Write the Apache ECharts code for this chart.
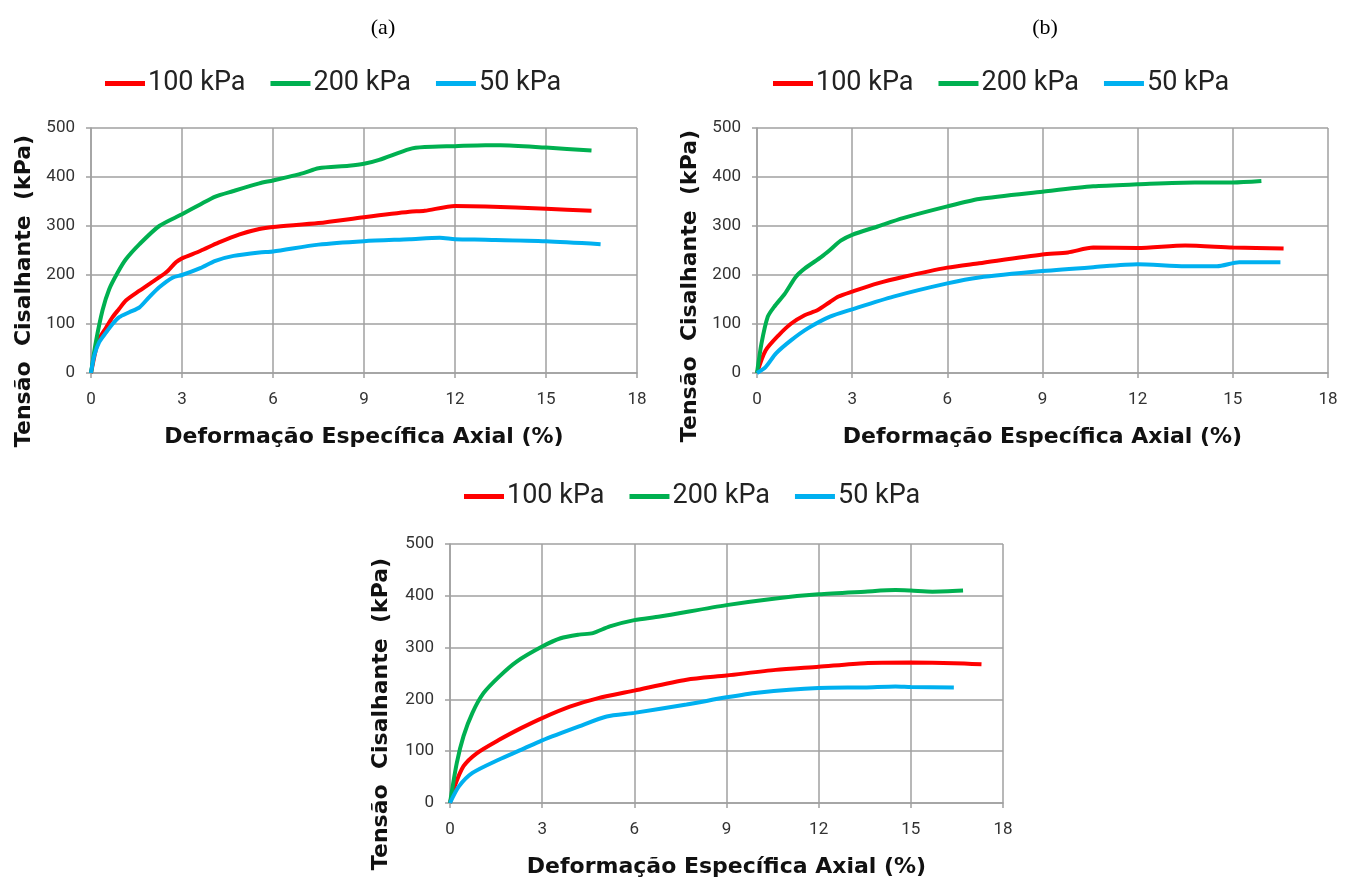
<!DOCTYPE html>
<html>
<head>
<meta charset="utf-8">
<script src="https://cdn.jsdelivr.net/npm/echarts@6/dist/echarts.min.js"></script>
<style>
html,body{margin:0;padding:0;background:#fff;}
#c{width:1354px;height:887px;}
</style>
</head>
<body>
<div id="c"></div>
<script>
// ---------- DATA ----------
var seriesNames = ['100 kPa', '200 kPa', '50 kPa'];
var xTicks = [0, 3, 6, 9, 12, 15, 18];
var yTicks = [0, 100, 200, 300, 400, 500];
var panelLabels = ['(a)', '(b)'];
var xTitle = 'Deformação Específica Axial (%)';
var yTitle = 'Tensão  Cisalhante  (kPa)';

// Panel (a)
var aX100 = [0, 0.15, 0.27, 0.5, 0.71, 0.93, 1.15, 1.6, 2.0, 2.47, 2.8, 3.0, 3.6, 4.2, 4.9, 5.55, 6, 7.5, 9, 10.5, 11, 12, 13, 15, 16.5];
var aY100 = [0, 45, 70, 93, 114, 131, 148, 168, 185, 205, 226, 234, 249, 266, 283, 294, 298, 306, 318, 329, 331, 341, 340, 335, 331];
var aX200 = [0, 0.16, 0.38, 0.6, 0.88, 1.15, 1.6, 2.25, 3.0, 3.6, 4.1, 4.67, 5.55, 6, 7, 7.5, 8.5, 9, 9.5, 10.5, 11, 12, 13, 13.5, 15, 16.5];
var aY200 = [0, 63, 128, 171, 205, 232, 263, 300, 324, 344, 360, 371, 387, 393, 408, 418, 423, 427, 435, 457, 461, 463, 465, 465, 460, 454];
var aX50  = [0, 0.11, 0.27, 0.5, 0.71, 0.93, 1.26, 1.6, 1.92, 2.25, 2.7, 3.0, 3.6, 4.1, 4.7, 5.55, 6, 7.5, 9, 10.5, 11.5, 12, 13, 15, 16.8];
var aY50  = [0, 36, 63, 83, 100, 114, 124, 134, 155, 175, 195, 200, 214, 229, 239, 246, 248, 262, 269, 273, 276, 273, 272, 269, 263];

// Panel (b)
var bX100 = [0, 0.27, 0.68, 1.08, 1.5, 1.9, 2.3, 2.57, 3.0, 3.8, 4.6, 6, 7, 9, 9.8, 10.6, 12, 13.5, 15, 16.6];
var bY100 = [0, 46, 77, 101, 118, 128, 145, 156, 166, 183, 196, 215, 224, 242, 246, 256, 255, 260, 256, 254];
var bX200 = [0, 0.14, 0.34, 0.54, 0.88, 1.22, 1.5, 2.03, 2.3, 2.64, 3.0, 3.8, 4.6, 6, 7, 9, 10.6, 12, 13.8, 15, 15.9];
var bY200 = [0, 60, 115, 135, 162, 196, 213, 237, 251, 270, 282, 299, 316, 340, 355, 370, 381, 385, 389, 389, 392];
var bX50  = [0, 0.27, 0.6, 1.08, 1.6, 2.3, 3.0, 4.3, 6, 7, 9, 10.6, 12, 13.5, 14.5, 15.2, 16.5];
var bY50  = [0, 12, 40, 67, 91, 115, 130, 156, 183, 195, 208, 216, 222, 218, 218, 226, 226];

// Panel (c)
var cX100 = [0, 0.15, 0.44, 0.87, 1.6, 2.33, 3.0, 3.9, 4.8, 6, 7.7, 9, 10.6, 12, 13.5, 15, 16.4, 17.3];
var cY100 = [0, 32, 71, 96, 122, 145, 164, 186, 202, 217, 238, 246, 257, 263, 270, 271, 270, 268];
var cX200 = [0, 0.22, 0.44, 0.73, 1.09, 1.6, 2.17, 3.0, 3.6, 4.2, 4.65, 5.2, 6, 6.83, 9, 10.6, 12, 13.5, 14.5, 15, 15.7, 16.7];
var cY200 = [0, 77, 129, 174, 212, 244, 273, 302, 318, 325, 328, 341, 353, 360, 382, 395, 403, 408, 411, 410, 408, 410];
var cX50  = [0, 0.29, 0.73, 1.6, 2.33, 3.0, 4.2, 5.1, 6, 7.7, 9, 10, 12, 13.5, 14.5, 15, 16.4];
var cY50  = [0, 32, 58, 84, 103, 121, 148, 167, 174, 190, 204, 213, 222, 223, 225, 224, 223];

var colors = {'100 kPa': '#ff0000', '200 kPa': '#00b050', '50 kPa': '#00b0f0'};

// ---------- LAYOUT ----------
var grids = [
  {left: 91, top: 128, width: 546, height: 245},
  {left: 757, top: 128, width: 571, height: 245},
  {left: 450, top: 544, width: 553, height: 259}
];
var legendPos = [
  {left: 100, top: 65},
  {left: 768, top: 65},
  {left: 459, top: 478}
];
var yTitlePos = [
  {x: 24, y: 291},
  {x: 690, y: 286},
  {x: 381, y: 714}
];
var labelFont = 'Roboto, "Open Sans", sans-serif';
var titleFont = '"DejaVu Sans", Verdana, sans-serif';

function pairs(xs, ys) {
  var out = [];
  for (var i = 0; i < xs.length; i++) out.push([xs[i], ys[i]]);
  return out;
}

var panelData = [
  {'100 kPa': pairs(aX100, aY100), '200 kPa': pairs(aX200, aY200), '50 kPa': pairs(aX50, aY50)},
  {'100 kPa': pairs(bX100, bY100), '200 kPa': pairs(bX200, bY200), '50 kPa': pairs(bX50, bY50)},
  {'100 kPa': pairs(cX100, cY100), '200 kPa': pairs(cX200, cY200), '50 kPa': pairs(cX50, cY50)}
];

var gridLine = {show: true, lineStyle: {color: '#a0a0a0', width: 1.5}};
var xAxes = [], yAxes = [], series = [], legends = [], graphics = [];

grids.forEach(function (g, i) {
  xAxes.push({
    type: 'value', gridIndex: i,
    min: xTicks[0], max: xTicks[xTicks.length - 1], interval: xTicks[1] - xTicks[0],
    axisLine: {show: true, lineStyle: {color: '#a0a0a0', width: 1.5}},
    axisTick: {show: true, length: 5, lineStyle: {color: '#a0a0a0', width: 1.5}},
    splitLine: gridLine,
    axisLabel: {color: '#333', fontSize: 17, fontFamily: labelFont, margin: 18},
    name: xTitle, nameLocation: 'middle', nameGap: 53,
    nameTextStyle: {fontFamily: titleFont, fontWeight: 'bold', fontSize: 22, color: '#111'}
  });
  yAxes.push({
    type: 'value', gridIndex: i,
    min: yTicks[0], max: yTicks[yTicks.length - 1], interval: yTicks[1] - yTicks[0],
    axisLine: {show: true, lineStyle: {color: '#a0a0a0', width: 1.5}},
    axisTick: {show: true, length: 5, lineStyle: {color: '#a0a0a0', width: 1.5}},
    splitLine: gridLine,
    axisLabel: {color: '#333', fontSize: 17, fontFamily: labelFont, margin: 16}
  });
  seriesNames.forEach(function (n) {
    series.push({
      name: n, type: 'line', xAxisIndex: i, yAxisIndex: i,
      data: panelData[i][n], showSymbol: false, symbol: 'none', smooth: 0.25,
      lineStyle: {color: colors[n], width: 4}, itemStyle: {color: colors[n]}
    });
  });
  legends.push({
    data: seriesNames, left: legendPos[i].left, top: legendPos[i].top,
    icon: 'rect', itemWidth: 40, itemHeight: 5, itemGap: 25,
    textStyle: {fontFamily: labelFont, fontSize: 27, color: '#222', padding: [0, 0, 0, -2]},
    selectedMode: false
  });
  graphics.push({
    type: 'text', x: yTitlePos[i].x, y: yTitlePos[i].y, rotation: Math.PI / 2,
    style: {text: yTitle, font: 'bold 22px ' + titleFont, fill: '#111', align: 'center', verticalAlign: 'middle'}
  });
});

var chart = echarts.init(document.getElementById('c'));
chart.setOption({
  backgroundColor: '#fff',
  animation: false,
  title: [
    {text: panelLabels[0], left: 378, top: 12, textAlign: 'center', textStyle: {fontFamily: '"Liberation Serif", serif', fontWeight: 'normal', fontSize: 22, color: '#000'}},
    {text: panelLabels[1], left: 1040, top: 12, textAlign: 'center', textStyle: {fontFamily: '"Liberation Serif", serif', fontWeight: 'normal', fontSize: 22, color: '#000'}}
  ],
  grid: grids,
  xAxis: xAxes,
  yAxis: yAxes,
  legend: legends,
  graphic: graphics,
  series: series
});
</script>
</body>
</html>
